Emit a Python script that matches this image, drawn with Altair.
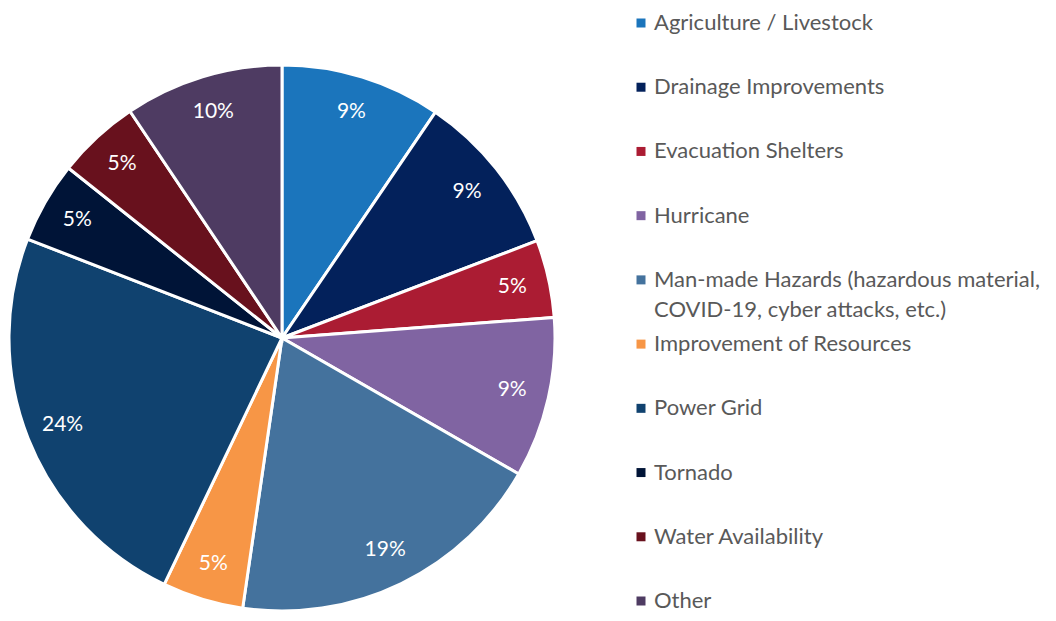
import altair as alt
import pandas as pd

categories = [
    "Agriculture / Livestock",
    "Drainage Improvements",
    "Evacuation Shelters",
    "Hurricane",
    "Man-made Hazards (hazardous material,\nCOVID-19, cyber attacks, etc.)",
    "Improvement of Resources",
    "Power Grid",
    "Tornado",
    "Water Availability",
    "Other",
]
shares = [9.5, 9.7, 4.6, 9.5, 19.0, 4.8, 23.8, 4.8, 4.9, 9.4]
pct_labels = ["9%", "9%", "5%", "9%", "19%", "5%", "24%", "5%", "5%", "10%"]
colors = [
    "#1B75BC", "#03215B", "#AB1C33", "#8064A2", "#44729D",
    "#F79646", "#10426F", "#001437", "#68111D", "#4E3B62",
]

df = pd.DataFrame({
    "cat": categories,
    "share": shares,
    "pct": pct_labels,
    "idx": list(range(len(categories))),
})

CX, CY, R = 274, 330, 273
color = alt.Color("cat:N", scale=alt.Scale(domain=categories, range=colors), legend=None)

base = alt.Chart(df)

arcs = base.mark_arc(x=CX, y=CY, radius=R, stroke="white", strokeWidth=3).encode(
    theta=alt.Theta("share:Q", stack=True),
    color=color,
    order=alt.Order("idx:Q"),
)

pct = base.mark_text(
    x=CX, y=CY, radius=236, font="Lato", fontSize=21, color="white"
).encode(
    theta=alt.Theta("share:Q", stack=True),
    text="pct:N",
    order=alt.Order("idx:Q"),
)

yscale = alt.Scale(domain=categories, range=[15, 593], padding=0)

swatch = base.mark_square(x=633, size=81, opacity=1).encode(
    y=alt.Y("cat:N", scale=yscale, axis=None, sort=categories),
    color=color,
)

leg_text = base.mark_text(
    x=646, align="left", baseline="alphabetic", dy=7, font="Lato",
    fontSize=22, color="#595959", lineBreak="\n", lineHeight=30,
).encode(
    y=alt.Y("cat:N", scale=yscale, axis=None, sort=categories),
    text="cat:N",
)

chart = alt.layer(arcs, pct, swatch, leg_text).properties(
    width=1040, height=605, padding=0, autosize=alt.AutoSizeParams(type="none")
).configure_view(stroke=None)

chart.save("out.html", embed_options={"renderer": "svg", "actions": False})
